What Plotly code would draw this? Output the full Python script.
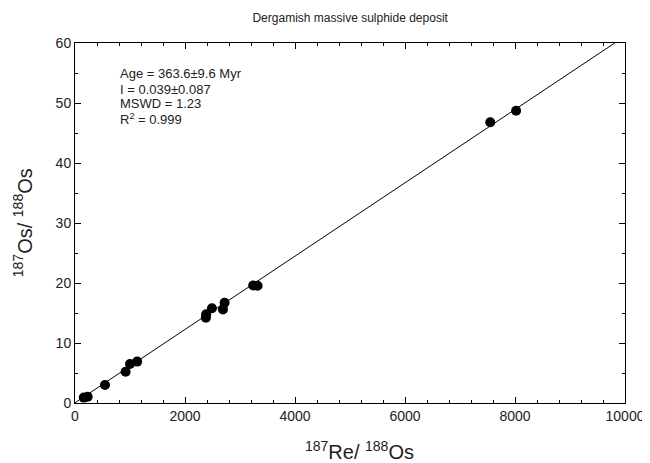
import plotly.graph_objects as go

re_os = [160, 230, 545, 920, 1000, 1130, 2380, 2385, 2490, 2690, 2720, 3240, 3320, 7550, 8020]
os_os = [0.9, 1.05, 3.0, 5.2, 6.5, 6.9, 14.2, 14.8, 15.8, 15.6, 16.7, 19.6, 19.55, 46.8, 48.7]

intercept = 0.039
slope = 0.00611
line_x = [0, 10000]
line_y = [intercept + slope * v for v in line_x]

title = "Dergamish massive sulphide deposit"
x_title = "<sup>187</sup>Re/ <sup>188</sup>Os"
y_title = "<sup>187</sup>Os/ <sup>188</sup>Os"
stats = ["Age = 363.6\u00b19.6 Myr", "I = 0.039\u00b10.087", "MSWD = 1.23", "R<sup>2</sup> = 0.999"]
stats_y = [0.914, 0.872, 0.831, 0.789]

FONT = "Liberation Sans"

fig = go.Figure()
fig.add_trace(go.Scatter(x=line_x, y=line_y, mode="lines",
                         line=dict(color="black", width=1), hoverinfo="skip"))
fig.add_trace(go.Scatter(x=re_os, y=os_os, mode="markers",
                         marker=dict(color="black", size=10, line=dict(width=0))))

axis_common = dict(showgrid=False, zeroline=False, showline=True, linecolor="black",
                   linewidth=1, mirror="ticks", ticks="inside", ticklen=6,
                   tickcolor="black", tickwidth=1, automargin=False,
                   tickfont=dict(family=FONT, size=14, color="#222"))

fig.update_xaxes(range=[0, 10000], dtick=2000, tick0=0, tickformat="d",
                 minor=dict(dtick=400, ticks="inside", ticklen=3, tickcolor="black"),
                 **axis_common)
fig.update_yaxes(range=[0, 60], dtick=10, tick0=0, tickformat="d",
                 minor=dict(dtick=5, ticks="inside", ticklen=3, tickcolor="black"),
                 **axis_common)

fig.add_annotation(text=x_title, xref="paper", yref="paper", x=0.518, y=-0.131,
                   xanchor="center", yanchor="middle", showarrow=False,
                   font=dict(family=FONT, size=20, color="#222"))
fig.add_annotation(text=y_title, xref="paper", yref="paper", x=-0.096, y=0.5,
                   xanchor="center", yanchor="middle", showarrow=False, textangle=-90,
                   font=dict(family=FONT, size=20, color="#222"))

for txt, yy in zip(stats, stats_y):
    fig.add_annotation(text=txt, xref="paper", yref="paper",
                       x=0.079, y=yy, xanchor="left", yanchor="middle", align="left",
                       showarrow=False, font=dict(family=FONT, size=13, color="#222"))

fig.update_layout(
    width=642, height=455,
    margin=dict(l=67, r=25, t=35, b=60),
    plot_bgcolor="white", paper_bgcolor="white",
    showlegend=False,
    title=dict(text=title, x=0.533, xanchor="center", y=0.978, yanchor="middle",
               font=dict(family=FONT, size=12, color="#222")),
)

fig.write_html("out.html")
